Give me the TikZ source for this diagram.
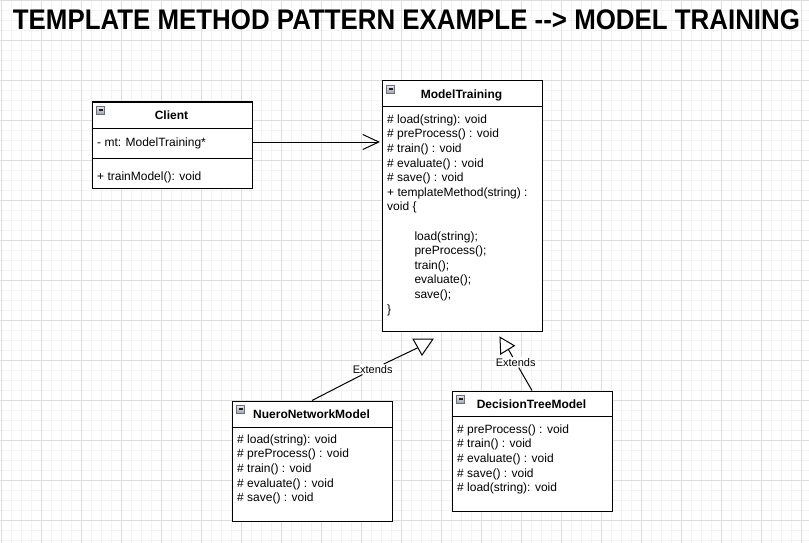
\documentclass[tikz,border=0pt]{standalone}
\usepackage{fontspec}
\setmainfont{Liberation Sans}
\usetikzlibrary{arrows.meta}
\definecolor{gridminor}{RGB}{243,243,243}
\definecolor{gridmajor}{RGB}{221,221,221}
\definecolor{iconborder}{RGB}{110,110,120}
\definecolor{icontop}{RGB}{235,235,240}
\definecolor{iconbottom}{RGB}{160,165,175}
\definecolor{icondash}{RGB}{30,30,30}
\tikzset{
  minorgrid/.style={draw=gridminor, line width=1pt},
  majorgrid/.style={draw=gridmajor, line width=1pt},
  umlbox/.style={draw=black, fill=white, line width=1pt, rectangle, inner sep=0pt, anchor=north west, minimum width=160pt},
  sepline/.style={draw=black, line width=1pt},
  member/.style={font=\fontsize{12}{14}\selectfont, anchor=base west, inner sep=0pt},
  header/.style={font=\bfseries\fontsize{12}{14}\selectfont, anchor=base, inner sep=0pt},
  conn/.style={draw=black, line width=1pt},
  extlabel/.style={font=\fontsize{11}{13}\selectfont, fill=white, inner sep=1pt},
  minusicon/.pic={
    \draw[draw=iconborder, line width=0.7pt, top color=icontop, bottom color=iconbottom] (0,0) rectangle (8,8);
    \draw[line width=1.3pt, draw=icondash] (2,4) -- (6,4);
  }
}
\begin{document}
\begin{tikzpicture}[x=1pt,y=-1pt]
\useasboundingbox (0,0) rectangle (809,543);
\fill[white] (0,0) rectangle (809,543);
% grid
\foreach \x in {1.7,11.7,...,809} \draw[minorgrid] (\x,0) -- (\x,543);
\foreach \y in {0.7,10.7,...,543} \draw[minorgrid] (0,\y) -- (809,\y);
\foreach \x in {1.7,41.7,...,809} \draw[majorgrid] (\x,0) -- (\x,543);
\foreach \y in {0.7,40.7,...,543} \draw[majorgrid] (0,\y) -- (809,\y);

% title
\node[anchor=base west, inner sep=0pt] (title) at (12.7,29.3)
  {\resizebox{787pt}{19.8pt}{\bfseries TEMPLATE METHOD PATTERN EXAMPLE -\kern0pt-\kern0pt> MODEL TRAINING}};

% Client
\node[umlbox, minimum height=86pt] (client) at (91.5,101.5) {};
\draw[sepline] (client.west |- 0,128) -- (client.east |- 0,128);
\draw[sepline] (client.west |- 0,158) -- (client.east |- 0,158);
\pic at (96.5,106) {minusicon};
\node[header] (clientname) at (171.5,120) {Client};
\node[member] (clientattr) at (97,146) {- mt: ModelTraining*};
\node[member] (clientop) at (97,180) {+ trainModel(): void};

% ModelTraining
\node[umlbox, minimum height=250pt] (mt) at (381.5,80.5) {};
\draw[sepline] (mt.west |- 0,106.5) -- (mt.east |- 0,106.5);
\pic at (386.5,85) {minusicon};
\node[header] (mtname) at (461.5,98.3) {ModelTraining};
\foreach \t [count=\i from 0] in {{\# load(string): void},{\# preProcess() : void},{\# train() : void},{\# evaluate() : void},{\# save() : void},{+ templateMethod(string) :},{void \{}}
  \node[member] (mtl\i) at (387,123.3+14.6*\i) {\t};
\foreach \t [count=\i from 8] in {{load(string);},{preProcess();},{train();},{evaluate();},{save();}}
  \node[member] (mtb\i) at (414.3,123.3+14.6*\i) {\t};
\node[member] (mtclose) at (387,123.3+14.6*13) {\}};

% NueroNetworkModel
\node[umlbox, minimum height=120pt] (nn) at (231.5,400.5) {};
\draw[sepline] (nn.west |- 0,427) -- (nn.east |- 0,427);
\pic at (236.5,405) {minusicon};
\node[header] (nnname) at (311.5,418.6) {NueroNetworkModel};
\foreach \t [count=\i from 0] in {{\# load(string): void},{\# preProcess() : void},{\# train() : void},{\# evaluate() : void},{\# save() : void}}
  \node[member] (nnl\i) at (237,443.3+14.65*\i) {\t};

% DecisionTreeModel
\node[umlbox, minimum height=120pt] (dt) at (451.5,390.5) {};
\draw[sepline] (dt.west |- 0,416.5) -- (dt.east |- 0,416.5);
\pic at (456.5,395) {minusicon};
\node[header] (dtname) at (531.5,408.3) {DecisionTreeModel};
\foreach \t [count=\i from 0] in {{\# preProcess() : void},{\# train() : void},{\# evaluate() : void},{\# save() : void},{\# load(string): void}}
  \node[member] (dtl\i) at (457,433.3+14.65*\i) {\t};

% association arrow
\draw[conn, -{Straight Barb[length=16pt, width=15pt]}, shorten >=1.5pt] (client.east |- 0,142) -- (mt.west |- 0,142);

% inheritance left
\coordinate (triLend) at (417.9,347.7);
\node[extlabel] (extL) at (372.7,369.3) {Extends};
\draw[conn] (nn.north) -- (extL) -- (triLend);
\draw[conn, fill=white, line join=miter] (413,339) -- (433,339) -- (422,355) -- cycle;

% inheritance right
\coordinate (triRend) at (508.3,349.3);
\node[extlabel] (extR) at (515.7,362.3) {Extends};
\draw[conn] (dt.north) -- (extR) -- (triRend);
\draw[conn, fill=white, line join=miter] (500,337.3) -- (500.7,354) -- (514.3,345.7) -- cycle;
\end{tikzpicture}
\end{document}
